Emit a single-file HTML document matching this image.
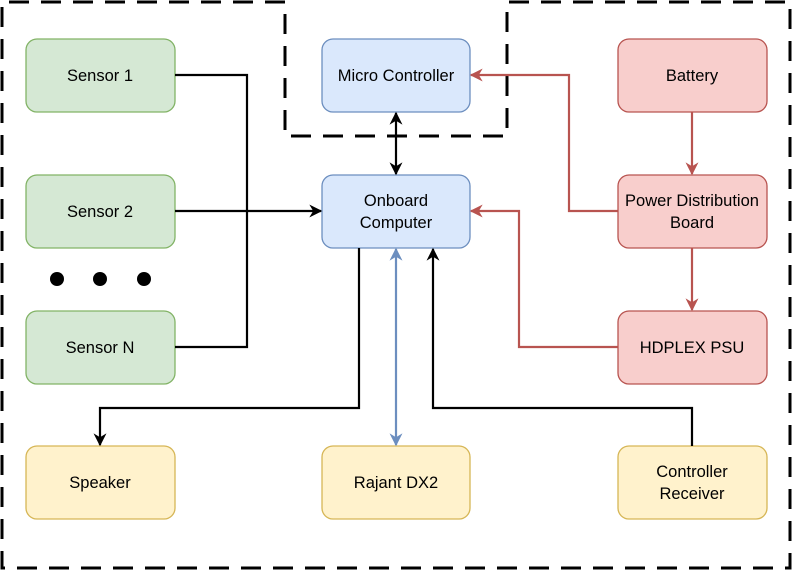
<!DOCTYPE html>
<html><head><meta charset="utf-8"><style>
body{margin:0;background:#fff}
svg text{font-family:"Liberation Sans",sans-serif;font-size:16.5px;fill:#000;text-anchor:middle}
</style></head><body>
<svg width="793" height="571" viewBox="0 0 793 571" xmlns="http://www.w3.org/2000/svg">
<defs>
<marker id="ak" viewBox="0 0 10 10" refX="9" refY="5" markerWidth="13" markerHeight="13" markerUnits="userSpaceOnUse" orient="auto-start-reverse"><path d="M0,0 L10,5 L0,10 L3,5 Z" fill="#000"/></marker>
<marker id="ar" viewBox="0 0 10 10" refX="9" refY="5" markerWidth="13" markerHeight="13" markerUnits="userSpaceOnUse" orient="auto-start-reverse"><path d="M0,0 L10,5 L0,10 L3,5 Z" fill="#b85450"/></marker>
<marker id="ab" viewBox="0 0 10 10" refX="9" refY="5" markerWidth="13" markerHeight="13" markerUnits="userSpaceOnUse" orient="auto-start-reverse"><path d="M0,0 L10,5 L0,10 L3,5 Z" fill="#6c8ebf"/></marker>
</defs>
<path d="M285,2 H2 V568 H790 V2 H507 V136 H285 Z" fill="none" stroke="#000" stroke-width="3" stroke-dasharray="20 12"/>
<g stroke-width="1.3">
<rect x="26" y="39" width="149" height="73" rx="11" fill="#d5e8d4" stroke="#82b366"/>
<rect x="26" y="175" width="149" height="73" rx="11" fill="#d5e8d4" stroke="#82b366"/>
<rect x="26" y="311" width="149" height="73" rx="11" fill="#d5e8d4" stroke="#82b366"/>
<rect x="322" y="39" width="148" height="73" rx="11" fill="#dae8fc" stroke="#6c8ebf"/>
<rect x="322" y="175" width="148" height="73" rx="11" fill="#dae8fc" stroke="#6c8ebf"/>
<rect x="618" y="39" width="149" height="73" rx="11" fill="#f8cecc" stroke="#b85450"/>
<rect x="618" y="175" width="149" height="73" rx="11" fill="#f8cecc" stroke="#b85450"/>
<rect x="618" y="311" width="149" height="73" rx="11" fill="#f8cecc" stroke="#b85450"/>
<rect x="26" y="446" width="149" height="73" rx="11" fill="#fff2cc" stroke="#d6b656"/>
<rect x="322" y="446" width="148" height="73" rx="11" fill="#fff2cc" stroke="#d6b656"/>
<rect x="618" y="446" width="149" height="73" rx="11" fill="#fff2cc" stroke="#d6b656"/>
</g>
<circle cx="57" cy="279" r="7"/><circle cx="100" cy="279" r="7"/><circle cx="144" cy="279" r="7"/>
<g fill="none" stroke-width="2.2">
<path d="M175,75 H247 V347 H175" stroke="#000"/>
<path d="M175,211 H321" stroke="#000" marker-end="url(#ak)"/>
<path d="M396,113 V174" stroke="#000" marker-start="url(#ak)" marker-end="url(#ak)"/>
<path d="M359,248 V408 H100 V445" stroke="#000" marker-end="url(#ak)"/>
<path d="M692,446 V408 H433 V249" stroke="#000" marker-end="url(#ak)"/>
<path d="M396,249 V445" stroke="#6c8ebf" marker-start="url(#ab)" marker-end="url(#ab)"/>
<path d="M618,211 H569 V75 H471" stroke="#b85450" marker-end="url(#ar)"/>
<path d="M692,112 V174" stroke="#b85450" marker-end="url(#ar)"/>
<path d="M692,248 V310" stroke="#b85450" marker-end="url(#ar)"/>
<path d="M618,347 H519 V211 H471" stroke="#b85450" marker-end="url(#ar)"/>
</g>
<text x="100" y="81">Sensor 1</text>
<text x="100" y="217">Sensor 2</text>
<text x="100" y="353">Sensor N</text>
<text x="396" y="81">Micro Controller</text>
<text x="396" y="206">Onboard</text>
<text x="396" y="228">Computer</text>
<text x="692" y="81">Battery</text>
<text x="692" y="206">Power Distribution</text>
<text x="692" y="228">Board</text>
<text x="692" y="353">HDPLEX PSU</text>
<text x="100" y="488">Speaker</text>
<text x="396" y="488">Rajant DX2</text>
<text x="692" y="477">Controller</text>
<text x="692" y="499">Receiver</text>
</svg>
</body></html>
